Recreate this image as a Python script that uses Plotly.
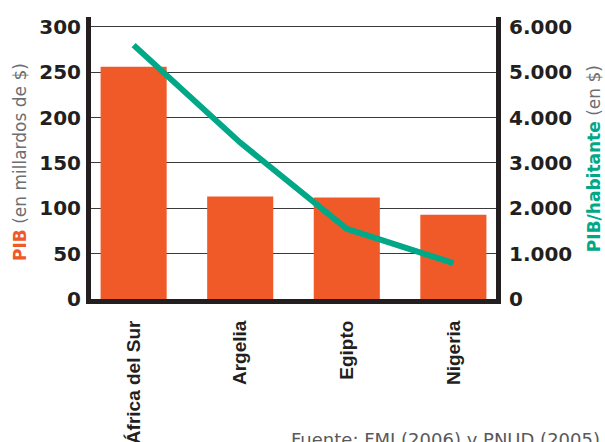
import plotly.graph_objects as go

countries = ["África del Sur", "Argelia", "Egipto", "Nigeria"]
pib = [256, 113, 112, 93]            # miles de millones de $
pib_hab = [5600, 3450, 1550, 790]    # $ por habitante

left_ticks = [0, 50, 100, 150, 200, 250, 300]
right_ticks = [0, 1000, 2000, 3000, 4000, 5000, 6000]
right_ticktext = ["0", "1.000", "2.000", "3.000", "4.000", "5.000", "6.000"]

ORANGE = "#f05a28"
GREEN = "#00a887"
DARK = "#231f20"
GREY = "#6d6e71"

fig = go.Figure()
fig.add_trace(go.Bar(x=countries, y=pib, marker=dict(color=ORANGE, line=dict(width=0)),
                     width=0.62, yaxis="y", showlegend=False))
fig.add_trace(go.Scatter(x=countries, y=pib_hab, mode="lines", yaxis="y2",
                         line=dict(color=GREEN, width=6), showlegend=False))

tickfont = dict(family="DejaVu Sans", size=20, color=DARK, weight="bold")

fig.update_layout(
    width=605, height=442,
    margin=dict(l=91, r=109, t=17, b=143, autoexpand=False),
    paper_bgcolor="white", plot_bgcolor="white",
    xaxis=dict(range=[-0.4, 3.4], showline=True, linewidth=5, linecolor=DARK,
               tickangle=-90, ticks="outside", ticklen=9, tickcolor="rgba(0,0,0,0)",
               tickfont=dict(family="Liberation Sans", size=19, color=DARK, weight="bold"),
               showgrid=False, zeroline=False, automargin=False),
    yaxis=dict(range=[0, 311], tickvals=left_ticks, showline=True, linewidth=5, linecolor=DARK,
               ticks="outside", ticklen=1, tickcolor="rgba(0,0,0,0)", tickfont=tickfont,
               showgrid=True, gridcolor="#3a3a3a", gridwidth=1, zeroline=False, automargin=False),
    yaxis2=dict(range=[0, 6220], tickvals=right_ticks, ticktext=right_ticktext,
                overlaying="y", side="right", showline=True, linewidth=5, linecolor=DARK,
                ticks="outside", ticklen=4, tickcolor="rgba(0,0,0,0)", tickfont=tickfont,
                showgrid=False, zeroline=False, automargin=False),
    bargap=0.38,
)

fig.add_annotation(xref="paper", yref="paper", x=0, y=0.486, xshift=-71,
                   text=f"<b><span style='color:{ORANGE}'>PIB</span></b> <span style='color:{GREY}'>(en millardos de $)</span>",
                   textangle=-90, showarrow=False, xanchor="center", yanchor="middle",
                   font=dict(family="DejaVu Sans", size=17, color=GREY))
fig.add_annotation(xref="paper", yref="paper", x=1, y=0.496, xshift=98,
                   text=f"<b><span style='color:{GREEN}'>PIB/habitante</span></b> <span style='color:{GREY}'>(en $)</span>",
                   textangle=-90, showarrow=False, xanchor="center", yanchor="middle",
                   font=dict(family="DejaVu Sans", size=17, color=GREY))
fig.add_annotation(xref="paper", yref="paper", x=1, y=0, xshift=106, yshift=-128,
                   text="Fuente: FMI (2006) y PNUD (2005)", showarrow=False,
                   xanchor="right", yanchor="top",
                   font=dict(family="DejaVu Sans", size=18, color="#58595b"))

fig.write_html("out.html", config={"displayModeBar": False},
               post_script="document.body.style.margin='0';document.body.style.overflow='hidden';")
